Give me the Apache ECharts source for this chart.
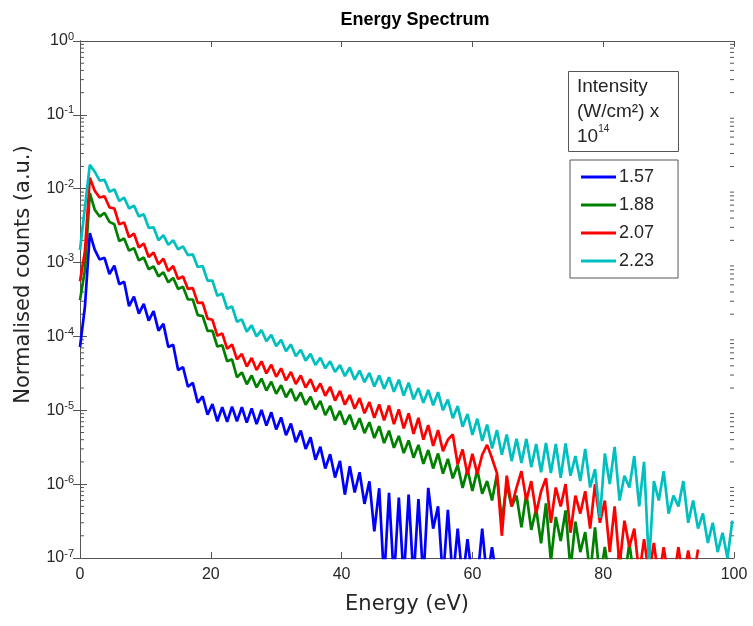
<!DOCTYPE html>
<html><head><meta charset="utf-8">
<script src="https://cdn.jsdelivr.net/npm/echarts@6/dist/echarts.min.js"></script>
<style>html,body{margin:0;padding:0;background:#fff}#c{width:753px;height:626px}</style>
</head><body><div id="c"></div>
<script>
// Energy grid (eV)
const energy = [0,0.75,1.5,2.25,3,3.75,4.5,5.25,6,6.75,7.5,8.25,9,9.75,10.5,11.25,12,12.75,13.5,14.25,15,15.75,16.5,17.25,18,18.75,19.5,20.25,21,21.75,22.5,23.25,24,24.75,25.5,26.25,27,27.75,28.5,29.25,30,30.75,31.5,32.25,33,33.75,34.5,35.25,36,36.75,37.5,38.25,39,39.75,40.5,41.25,42,42.75,43.5,44.25,45,45.75,46.5,47.25,48,48.75,49.5,50.25,51,51.75,52.5,53.25,54,54.75,55.5,56.25,57,57.75,58.5,59.25,60,60.75,61.5,62.25,63,63.75,64.5,65.25,66,66.75,67.5,68.25,69,69.75,70.5,71.25,72,72.75,73.5,74.25,75,75.75,76.5,77.25,78,78.75,79.5,80.25,81,81.75,82.5,83.25,84,84.75,85.5,86.25,87,87.75,88.5,89.25,90,90.75,91.5,92.25,93,93.75,94.5,95.25,96,96.75,97.5,98.25,99,99.75];

// Intensity 1.57 x 10^14 W/cm^2
const counts157 = [
7.2e-5,2.5e-4,2.5e-3,1.5e-3,1.1e-3,1.16e-3,7.0e-4,9.1e-4,5.1e-4,5.5e-4,
2.57e-4,3.47e-4,2.04e-4,2.76e-4,1.64e-4,2.2e-4,1.2e-4,1.48e-4,7.2e-5,7.7e-5,
3.5e-5,3.85e-5,2.08e-5,2.35e-5,1.27e-5,1.54e-5,8.7e-6,1.21e-5,7.1e-6,1.1e-5,
7.0e-6,1.12e-5,7.1e-6,1.1e-5,6.8e-6,1.06e-5,6.5e-6,1.01e-5,6.2e-6,9.4e-6,
5.5e-6,8.0e-6,4.6e-6,6.6e-6,3.7e-6,5.3e-6,3.0e-6,4.3e-6,2.14e-6,3.2e-6,
1.63e-6,2.54e-6,1.23e-6,2.06e-6,7.2e-7,1.75e-6,7.7e-7,1.45e-6,5.4e-7,1.09e-6,
2.3e-7,8.8e-7,5e-8,7.6e-7,5e-8,6.6e-7,5e-8,7.2e-7,5e-8,6.3e-7,
5e-8,8.9e-7,2.5e-7,5.0e-7,5e-8,4.5e-7,5e-8,2.5e-7,5e-8,1.8e-7,
5e-8,5e-8,2.5e-7,5e-8,1.4e-7,5e-8,null,null,null,null,
null,null,null,null,null,null,null,null,null,null,
null,null,null,null,null,null,null,null,null,null,
null,null,null,null,null,null,null,null,null,null,
null,null,null,null,null,null,null,null,null,null,
null,null,null,null];

// Intensity 1.88
const counts188 = [
3.1e-4,7.9e-4,8.7e-3,5.2e-3,4.2e-3,4.7e-3,3.56e-3,3.3e-3,1.95e-3,2.12e-3,
1.45e-3,1.57e-3,1.07e-3,1.17e-3,8.1e-4,8.9e-4,6.5e-4,7.4e-4,5.4e-4,6.2e-4,
4.4e-4,4.7e-4,3.16e-4,3.16e-4,1.94e-4,1.89e-4,1.19e-4,1.19e-4,7.3e-5,7.6e-5,
4.6e-5,4.9e-5,2.8e-5,3.26e-5,2.25e-5,2.96e-5,2.04e-5,2.69e-5,1.85e-5,2.44e-5,
1.67e-5,2.18e-5,1.5e-5,1.95e-5,1.34e-5,1.74e-5,1.19e-5,1.53e-5,1.03e-5,1.34e-5,
8.6e-6,1.15e-5,7.3e-6,9.8e-6,6.4e-6,8.7e-6,5.5e-6,7.8e-6,4.9e-6,6.9e-6,
4.2e-6,6.1e-6,3.6e-6,5.3e-6,3.1e-6,4.5e-6,2.64e-6,3.9e-6,2.28e-6,3.4e-6,
1.88e-6,2.9e-6,1.63e-6,2.6e-6,1.39e-6,2.2e-6,1.2e-6,1.82e-6,8.9e-7,1.58e-6,
8.1e-7,1.55e-6,7.4e-7,1.1e-6,6.0e-7,1.35e-6,3.2e-7,9.8e-7,5.0e-7,7.0e-7,
2.6e-7,7.5e-7,2.4e-7,4.6e-7,1.58e-7,5.5e-7,9e-8,3.6e-7,1.7e-7,4.4e-7,
7e-8,3.1e-7,1.2e-7,2.24e-7,6e-8,2.6e-7,5e-8,1.41e-7,5e-8,5e-8,
1.26e-7,5e-8,1.6e-7,5e-8,null,null,null,null,null,null,
null,null,null,null,null,null,null,null,null,null,
null,null,null,null];

// Intensity 2.07
const counts207 = [
5.6e-4,1.41e-3,1.41e-2,9.4e-3,7.6e-3,7.9e-3,5.6e-3,5.4e-3,3.3e-3,3.5e-3,
2.2e-3,2.47e-3,1.6e-3,1.81e-3,1.19e-3,1.37e-3,9.5e-4,1.13e-3,7.7e-4,9.0e-4,
6.0e-4,6.5e-4,4.4e-4,4.5e-4,2.84e-4,2.86e-4,1.74e-4,1.68e-4,1.02e-4,1.1e-4,
6.8e-5,7.8e-5,4.9e-5,5.8e-5,3.9e-5,5.1e-5,3.5e-5,4.6e-5,3.16e-5,4.15e-5,
2.84e-5,3.7e-5,2.54e-5,3.3e-5,2.27e-5,2.96e-5,2.03e-5,2.63e-5,1.79e-5,2.31e-5,
1.57e-5,2.08e-5,1.35e-5,1.83e-5,1.19e-5,1.61e-5,1.05e-5,1.46e-5,9.1e-6,1.29e-5,
7.9e-6,1.2e-5,7.3e-6,1.16e-5,6.5e-6,1.03e-5,5.7e-6,9.1e-6,4.8e-6,7.9e-6,
4.0e-6,6.3e-6,3.3e-6,5.4e-6,2.8e-6,4.0e-6,4.7e-6,1.85e-6,2.95e-6,1.35e-6,
2.57e-6,1.38e-6,2.5e-6,3.4e-6,2.24e-6,1.41e-6,2.0e-7,1.3e-6,5.0e-7,9.0e-7,
1.5e-6,6.0e-7,1.1e-6,4.0e-7,8.0e-7,1.2e-6,3.0e-7,9.0e-7,5.0e-7,1.0e-6,
2.2e-7,7.0e-7,4.0e-7,8.0e-7,2.5e-7,1.0e-6,3.0e-7,6.0e-7,1.2e-7,5.0e-7,
8e-8,3.2e-7,1.41e-7,2.5e-7,6e-8,1.8e-7,6e-8,1.6e-7,5e-8,1.4e-7,
5e-8,5e-8,1.4e-7,5e-8,1.26e-7,5e-8,1.3e-7,null,null,null,
null,null,null,null];

// Intensity 2.23
const counts223 = [
1.48e-3,5.6e-3,2.1e-2,1.7e-2,1.29e-2,1.32e-2,9.1e-3,9.8e-3,6.8e-3,7.6e-3,
5.4e-3,5.9e-3,4.2e-3,4.5e-3,2.95e-3,3.0e-3,2.0e-3,2.35e-3,1.74e-3,2.0e-3,
1.51e-3,1.66e-3,1.26e-3,1.29e-3,8.7e-4,9.0e-4,5.7e-4,5.7e-4,3.55e-4,3.8e-4,
2.37e-4,2.55e-4,1.58e-4,1.7e-4,1.16e-4,1.41e-4,1.0e-4,1.22e-4,8.6e-5,1.05e-4,
7.4e-5,9.0e-5,6.3e-5,7.8e-5,5.4e-5,6.6e-5,4.7e-5,5.8e-5,4.1e-5,5.15e-5,
3.7e-5,4.6e-5,3.3e-5,4.1e-5,2.9e-5,3.8e-5,2.6e-5,3.45e-5,2.4e-5,3.2e-5,
2.1e-5,2.95e-5,1.95e-5,2.8e-5,1.78e-5,2.6e-5,1.58e-5,2.37e-5,1.41e-5,2.0e-5,
1.26e-5,1.88e-5,1.17e-5,1.76e-5,1.0e-5,1.4e-5,7.8e-6,1.14e-5,6.0e-6,8.9e-6,
4.65e-6,7.7e-6,3.85e-6,6.4e-6,3.05e-6,5.4e-6,2.5e-6,4.7e-6,2.05e-6,4.1e-6,
1.94e-6,4.1e-6,1.7e-6,3.5e-6,1.45e-6,3.6e-6,1.41e-6,3.5e-6,1.22e-6,3.55e-6,
1.3e-6,2.4e-6,1.1e-6,3.0e-6,9.0e-7,1.6e-6,3.5e-7,2.6e-6,1.0e-6,3.2e-6,
6.0e-7,1.3e-6,9.0e-7,2.4e-6,5.0e-7,2.0e-6,8e-8,1.1e-6,6.0e-7,1.5e-6,
4.0e-7,7.0e-7,5.0e-7,1.1e-6,3.0e-7,6.0e-7,2.5e-7,4.0e-7,1.6e-7,3.0e-7,
1.2e-7,2.2e-7,1.0e-7,3.2e-7];

const seriesNames = ['1.57', '1.88', '2.07', '2.23'];
const seriesValues = [counts157, counts188, counts207, counts223];
const seriesColors = ['#0000FF', '#008000', '#FF0000', '#00BFBF'];
const xTickInterval = 20;
const yDecades = [-7, -6, -5, -4, -3, -2, -1, 0];
const minorMultipliers = [2, 3, 4, 5, 6, 7, 8, 9];

const minorTickValues = [];
yDecades.slice(0, -1).forEach(k => minorMultipliers.forEach(m => minorTickValues.push(m * Math.pow(10, k))));

const axisColor = '#555555';
const textColor = '#262626';
const sans = 'Liberation Sans, Arial, sans-serif';
const nameFont = 'DejaVu Sans, sans-serif';

const chart = echarts.init(document.getElementById('c'), null, {renderer: 'canvas'});

const lineSeries = seriesNames.map((n, si) => ({
  type: 'line',
  name: n,
  xAxisIndex: 0,
  yAxisIndex: 0,
  data: energy.map((e, i) => [e, seriesValues[si][i]]),
  symbol: 'none',
  showSymbol: false,
  connectNulls: false,
  lineStyle: {width: 2.7, color: seriesColors[si]},
  itemStyle: {color: seriesColors[si]},
  z: 3
}));

const minorTickSeries = {
  type: 'custom',
  name: 'minorTicks',
  xAxisIndex: 0,
  yAxisIndex: 0,
  silent: true,
  clip: false,
  z: 1,
  data: minorTickValues.map(v => [0, v]),
  renderItem: function (params, api) {
    const v = api.value(1);
    const l = api.coord([0, v]);
    const r = api.coord([100, v]);
    return {
      type: 'group',
      children: [
        {type: 'line', shape: {x1: l[0], y1: l[1], x2: l[0] + 4, y2: l[1]}, style: {stroke: axisColor, lineWidth: 1}},
        {type: 'line', shape: {x1: r[0], y1: r[1], x2: r[0] - 4, y2: r[1]}, style: {stroke: axisColor, lineWidth: 1}}
      ]
    };
  }
};

const option = {
  animation: false,
  backgroundColor: '#ffffff',
  title: {
    text: '{n|Intensity}\n{n|(W/cm²) x}\n{n|10}{s|14}',
    left: 568,
    top: 68,
    padding: [6, 19, 6, 9],
    borderColor: axisColor,
    borderWidth: 1,
    textStyle: {
      fontSize: 19, fontWeight: 'normal', fontFamily: sans, color: textColor,
      rich: {
        n: {fontSize: 19, lineHeight: 25, fontFamily: sans, color: textColor},
        s: {fontSize: 10, lineHeight: 14, verticalAlign: 'top', fontFamily: sans, color: textColor}
      }
    }
  },
  legend: {
    data: seriesNames.map(n => ({name: n, icon: 'rect'})),
    orient: 'vertical',
    left: 570,
    top: 160,
    itemWidth: 35,
    itemHeight: 3,
    itemGap: 10,
    padding: [8, 24, 8, 11],
    borderColor: axisColor,
    borderWidth: 1,
    textStyle: {fontSize: 18, lineHeight: 18, fontFamily: sans, color: textColor, padding: [0, 0, 0, -2]}
  },
  grid: {left: 80, right: 19, top: 41, bottom: 68, containLabel: false},
  xAxis: [
    {
      type: 'value', min: 0, max: 100, interval: xTickInterval, position: 'bottom',
      axisLine: {show: true, lineStyle: {color: axisColor, width: 1}},
      axisTick: {show: true, inside: true, length: 6, lineStyle: {color: axisColor}},
      axisLabel: {color: textColor, fontSize: 16, fontFamily: sans, margin: 9},
      splitLine: {show: false},
      name: 'Energy (eV)', nameLocation: 'middle', nameGap: 36,
      nameTextStyle: {fontFamily: nameFont, fontSize: 21, color: textColor}
    },
    {
      type: 'value', min: 0, max: 100, interval: xTickInterval, position: 'top',
      axisLine: {show: true, lineStyle: {color: axisColor, width: 1}},
      axisTick: {show: true, inside: true, length: 6, lineStyle: {color: axisColor}},
      axisLabel: {show: false},
      splitLine: {show: false},
      name: 'Energy Spectrum', nameLocation: 'middle', nameGap: 12,
      nameTextStyle: {fontFamily: sans, fontSize: 18, fontWeight: 'bold', color: '#000', padding: [0, 0, 0, 16]}
    }
  ],
  yAxis: [
    {
      type: 'log', logBase: 10, min: 1e-7, max: 1, position: 'left',
      axisLine: {show: true, lineStyle: {color: axisColor, width: 1}},
      axisTick: {show: true, inside: true, length: 7, lineStyle: {color: axisColor}},
      axisLabel: {
        margin: 6,
        formatter: v => '{b|10}{s|' + Math.round(Math.log10(v)) + '}',
        rich: {
          b: {fontSize: 16, fontFamily: sans, color: textColor, lineHeight: 20},
          s: {fontSize: 11, fontFamily: sans, color: textColor, lineHeight: 12, verticalAlign: 'top'}
        }
      },
      splitLine: {show: false},
      name: 'Normalised counts (a.u.)', nameLocation: 'middle', nameGap: 46,
      nameTextStyle: {fontFamily: nameFont, fontSize: 21, color: textColor, padding: [0, 0, 0, 50]}
    },
    {
      type: 'log', logBase: 10, min: 1e-7, max: 1, position: 'right',
      axisLine: {show: true, lineStyle: {color: axisColor, width: 1}},
      axisTick: {show: true, inside: true, length: 7, lineStyle: {color: axisColor}},
      axisLabel: {show: false},
      splitLine: {show: false}
    }
  ],
  series: [minorTickSeries].concat(lineSeries)
};
chart.setOption(option);
</script>
</body></html>
